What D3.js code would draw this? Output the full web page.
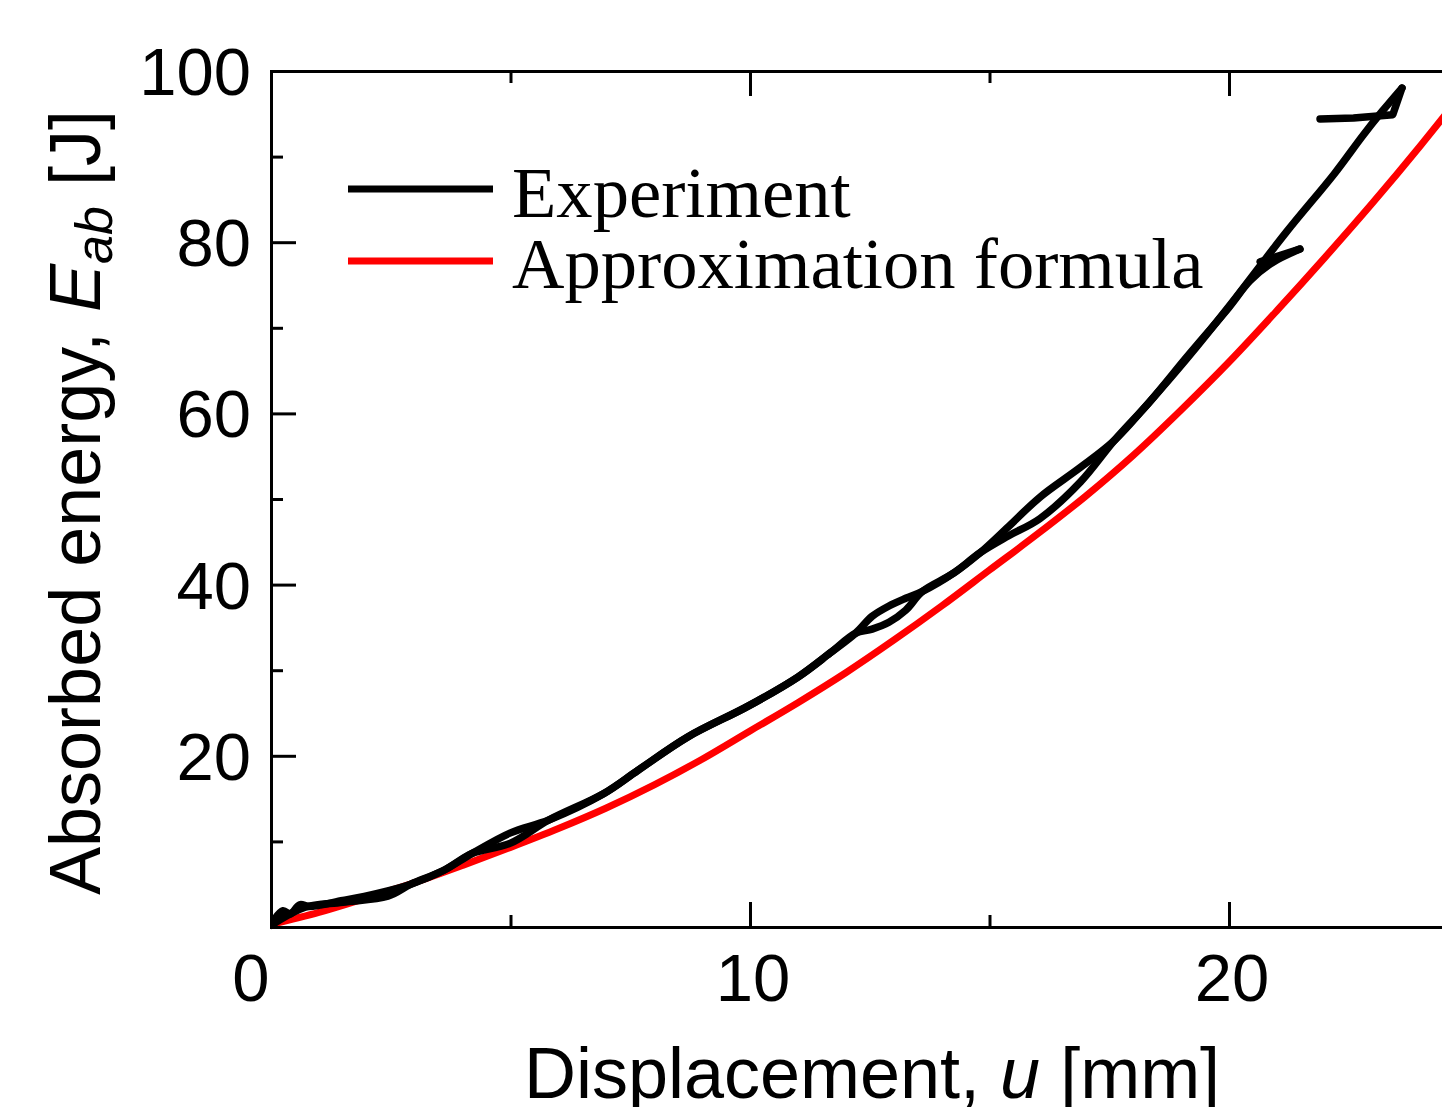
<!DOCTYPE html>
<html lang="en">
<head>
<meta charset="UTF-8" />
<title>Absorbed energy vs displacement</title>
<script src="https://cdn.jsdelivr.net/npm/d3@7"></script>
<style>
  body { margin: 0; background: #fff; }
  svg { display: block; }
  .sans { font-family: "Liberation Sans", Arial, sans-serif; }
  .serif { font-family: "Liberation Serif", "Times New Roman", serif; }
</style>
</head>
<body>
<div id="chart"></div>
<script>
// approximation formula
const approxU = [0, 1, 2, 3, 4, 5, 6, 7, 8, 9, 10, 11, 12, 13, 14, 15, 16, 17, 18, 19, 20, 21, 22, 23, 24, 25];
const approxE = [0.3, 1.7, 3.4, 5.2, 7.2, 9.3, 11.5, 13.9, 16.6, 19.6, 22.9, 26.2, 29.7, 33.5, 37.5, 41.7, 45.9, 50.3, 55.1, 60.4, 66.0, 72.0, 78.2, 84.6, 91.3, 98.3];

// experiment, test 1 (runs to ~98 J, then rebounds)
const exp1U = [0, 0.25, 0.4, 0.6, 0.8, 1.5, 2.2, 2.92, 3.6, 4.2, 5.0, 5.8, 6.95, 7.66, 8.7, 9.96, 11.0, 11.67, 12.2, 12.55, 12.9, 13.25, 13.6, 14.24, 14.8, 15.4, 16.05, 16.9, 17.6, 18.35, 19.12, 20.0, 21.2, 22.2, 22.8, 23.2, 23.61, 23.42, 22.6, 21.9];
const exp1E = [0.3, 1.9, 1.5, 2.6, 2.4, 3.1, 3.9, 5.0, 6.6, 8.6, 11.0, 12.5, 15.6, 18.3, 22.2, 25.8, 29.2, 32.0, 34.3, 36.3, 37.5, 38.4, 39.2, 41.3, 43.7, 46.8, 50.2, 53.7, 56.8, 61.4, 66.4, 72.5, 81.2, 88.0, 92.5, 95.3, 98.0, 94.9, 94.5, 94.4];

// experiment, test 2 (stops near 79 J, then rebounds)
const exp2U = [0, 0.7, 1.5, 2.44, 2.92, 3.6, 4.2, 5.0, 5.8, 6.95, 7.66, 8.7, 9.96, 11.0, 11.67, 12.2, 12.55, 12.9, 13.25, 13.6, 14.24, 14.8, 15.4, 16.05, 16.9, 17.6, 18.35, 19.12, 20.0, 20.44, 20.9, 21.48, 20.65];
const exp2E = [0.2, 2.3, 2.9, 3.6, 5.0, 6.6, 8.6, 9.8, 12.5, 15.6, 18.3, 22.2, 25.8, 29.2, 32.0, 34.3, 34.8, 35.6, 37.0, 39.2, 41.3, 43.7, 45.7, 47.7, 52.0, 56.8, 61.4, 66.6, 72.4, 75.5, 77.6, 79.2, 77.7];

const xTicks = [0, 10, 20];
const xMinor = [5, 15, 25];
const yTicks = [20, 40, 60, 80, 100];
const yMinor = [10, 30, 50, 70, 90];

const W = 1442, H = 1107;
const plotLeft = 271, plotTop = 71, plotBottom = 927;

const x = d3.scaleLinear().domain([0, 25]).range([plotLeft, plotLeft + 25 * 47.9]);
const y = d3.scaleLinear().domain([0, 100]).range([plotBottom, plotTop]);

const svg = d3.select("#chart").append("svg")
  .attr("width", W).attr("height", H);

svg.append("defs").append("clipPath").attr("id", "plot")
  .append("rect").attr("x", plotLeft).attr("y", plotTop - 4)
  .attr("width", W - plotLeft).attr("height", plotBottom - plotTop + 8);

const zip = (us, es) => us.map((u, i) => [u, es[i]]);
const smooth = d3.line().x(d => x(d[0])).y(d => y(d[1])).curve(d3.curveCatmullRom.alpha(0.5));
const straight = d3.line().x(d => x(d[0])).y(d => y(d[1]));

const g = svg.append("g").attr("clip-path", "url(#plot)");

g.append("path").datum(zip(approxU, approxE))
  .attr("d", smooth).attr("fill", "none")
  .attr("stroke", "#ff0000").attr("stroke-width", 7);

// loading part smooth, rebound after the peak drawn straight
[zip(exp1U, exp1E), zip(exp2U, exp2E)].forEach(d => {
  const peak = d3.maxIndex(d, p => p[1]);
  [[d.slice(0, peak + 1), smooth], [d.slice(peak), straight]].forEach(([part, gen]) => {
    g.append("path").datum(part)
      .attr("d", gen).attr("fill", "none")
      .attr("stroke", "#000").attr("stroke-width", 7.5)
      .attr("stroke-linecap", "round").attr("stroke-linejoin", "round");
  });
});

// axes: bottom + top (mirror), left
const bottomAxis = d3.axisBottom(x).tickValues(xTicks).tickSize(-25).tickFormat("");
const bottomMinor = d3.axisBottom(x).tickValues(xMinor).tickSize(-12).tickFormat("");
const topAxis = d3.axisTop(x).tickValues(xTicks).tickSize(-25).tickFormat("");
const topMinor = d3.axisTop(x).tickValues(xMinor).tickSize(-12).tickFormat("");
const leftAxis = d3.axisLeft(y).tickValues(yTicks).tickSize(-25).tickFormat("");
const leftMinor = d3.axisLeft(y).tickValues(yMinor).tickSize(-12).tickFormat("");

function styleAxis(sel) {
  sel.selectAll("path, line").attr("stroke", "#000").attr("stroke-width", 3);
}

svg.append("g").attr("transform", `translate(0,${plotBottom})`).call(bottomAxis).call(styleAxis);
svg.append("g").attr("transform", `translate(0,${plotBottom})`).call(bottomMinor).call(styleAxis)
  .select(".domain").remove();
svg.append("g").attr("transform", `translate(0,${plotTop})`).call(topAxis).call(styleAxis);
svg.append("g").attr("transform", `translate(0,${plotTop})`).call(topMinor).call(styleAxis)
  .select(".domain").remove();
svg.append("g").attr("transform", `translate(${plotLeft},0)`).call(leftAxis).call(styleAxis);
svg.append("g").attr("transform", `translate(${plotLeft},0)`).call(leftMinor).call(styleAxis)
  .select(".domain").remove();

// tick labels
svg.selectAll(".xlab").data(xTicks).enter().append("text")
  .attr("class", "sans")
  .attr("x", d => x(d) + (d === 0 ? -20 : 3))
  .attr("y", 1001)
  .attr("text-anchor", "middle")
  .attr("font-size", 67)
  .text(d => d);

svg.selectAll(".ylab").data(yTicks).enter().append("text")
  .attr("class", "sans")
  .attr("x", 251)
  .attr("y", d => y(d) + 24)
  .attr("text-anchor", "end")
  .attr("font-size", 67)
  .text(d => d);

// axis titles
const xt = svg.append("text").attr("class", "sans")
  .attr("x", 872).attr("y", 1098).attr("text-anchor", "middle")
  .attr("font-size", 72);
xt.append("tspan").text("Displacement, ");
xt.append("tspan").attr("font-style", "italic").text("u");
xt.append("tspan").text(" [mm]");

const yt = svg.append("text").attr("class", "sans")
  .attr("transform", "translate(100,895) rotate(-90)")
  .attr("font-size", 72);
yt.append("tspan").text("Absorbed energy,  ");
yt.append("tspan").attr("font-style", "italic").text("E");
yt.append("tspan").attr("font-style", "italic").attr("font-size", 52).attr("dy", 12).text("ab");
yt.append("tspan").attr("dy", -12).text(" [J]");

// legend
const legend = [
  { label: "Experiment", color: "#000", y: 189, base: 217 },
  { label: "Approximation formula", color: "#ff0000", y: 261, base: 288 }
];
legend.forEach(l => {
  svg.append("line").attr("x1", 348).attr("x2", 493)
    .attr("y1", l.y).attr("y2", l.y)
    .attr("stroke", l.color).attr("stroke-width", 7);
  svg.append("text").attr("class", "serif")
    .attr("x", 512).attr("y", l.base)
    .attr("font-size", 72.6)
    .text(l.label);
});
</script>
</body>
</html>
